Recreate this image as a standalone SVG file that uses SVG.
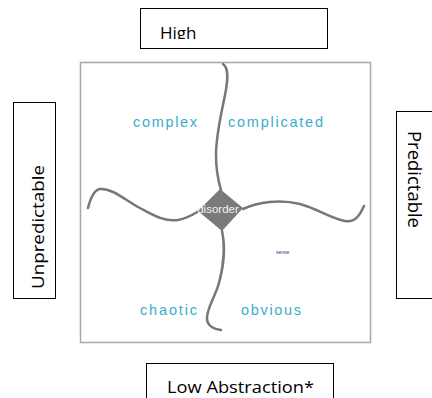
<svg xmlns="http://www.w3.org/2000/svg" width="432" height="398" viewBox="0 0 432 398">
  <defs>
    <style>
      .box { fill: #ffffff; stroke: #000000; stroke-width: 1; }
      .axis { font-family: "Open Sans", "Liberation Sans", sans-serif; font-size: 17px; fill: #000000; }
      .frame { fill: #ffffff; stroke: #a8a8a8; stroke-width: 1.5; }
      .curve { fill: none; stroke: #777777; stroke-width: 2.5; stroke-linecap: round; stroke-linejoin: round; }
      .domain { font-family: "Liberation Sans", Arial, sans-serif; font-size: 14.5px; fill: #3aadcd; }
      .dis { font-family: "Liberation Sans", Arial, sans-serif; font-size: 11.5px; fill: #f2f2f2; }
    </style>
    <clipPath id="clipHigh">
      <rect x="140" y="8" width="187" height="31"/>
    </clipPath>
  </defs>

  <g id="box-high">
    <rect class="box" x="140.5" y="8.5" width="187" height="40"/>
    <text class="axis" x="160" y="38.5" clip-path="url(#clipHigh)">High</text>
  </g>

  <g id="box-low">
    <rect class="box" x="146.5" y="363.5" width="187" height="50"/>
    <text class="axis" x="167" y="393" textLength="147" lengthAdjust="spacingAndGlyphs">Low Abstraction*</text>
  </g>

  <g id="box-unpredictable">
    <rect class="box" x="13.5" y="102.5" width="42" height="196"/>
    <text class="axis" transform="translate(44,289) rotate(-90)" x="0" y="0" textLength="124" lengthAdjust="spacingAndGlyphs">Unpredictable</text>
  </g>

  <g id="box-predictable">
    <rect class="box" x="396.5" y="111.5" width="50" height="187"/>
    <text class="axis" style="font-size:17.5px" transform="translate(408,131) rotate(90)" x="0" y="0" textLength="97" lengthAdjust="spacingAndGlyphs">Predictable</text>
  </g>

  <g id="frame">
    <rect class="frame" x="80.5" y="62.5" width="290" height="280"/>
  </g>

  <g id="connectors">
    <path class="curve" d="M223,64 C229,68 228,80 225,95 C221,115 216,135 216,155 C216,170 218,180 221,190"/>
    <path class="curve" d="M88,208 C90,200 93,190 100,189 C112,188 125,200 140,208 C155,216 165,222 178,220 C188,218 194,214 199,211"/>
    <path class="curve" d="M243,209 C258,202 280,199 300,204 C318,209 330,218 345,221 C355,223 360,215 364,206"/>
    <path class="curve" d="M222,231 C225,245 224,265 219,283 C215,297 207,308 207,318 C207,326 214,329 221,330"/>
  </g>

  <g id="node-disorder">
    <polygon points="220,189 243,208 222,231 198,211" fill="#7a7a7a"/>
    <text class="dis" x="218" y="213" text-anchor="middle">disorder</text>
  </g>

  <g id="node-complex">
    <text class="domain" x="133" y="127" textLength="64" lengthAdjust="spacing">complex</text>
  </g>
  <g id="node-complicated">
    <text class="domain" x="228" y="127" textLength="95" lengthAdjust="spacing">complicated</text>
  </g>
  <g id="node-chaotic">
    <text class="domain" x="140" y="315" textLength="57" lengthAdjust="spacing">chaotic</text>
  </g>
  <g id="node-obvious">
    <text class="domain" x="241" y="315" textLength="60" lengthAdjust="spacing">obvious</text>
    <text x="276" y="254" font-family="Liberation Sans, Arial, sans-serif" font-size="5" fill="#2a3a6a">sense</text>
  </g>
</svg>
